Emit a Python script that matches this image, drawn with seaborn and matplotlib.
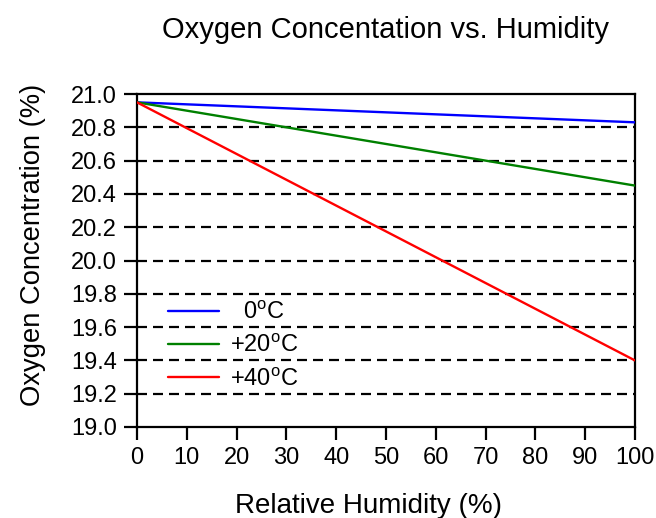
import matplotlib
matplotlib.use("Agg")
import matplotlib.pyplot as plt
import seaborn as sns
import pandas as pd

humidity = [0, 100]
temp_0C = [20.95, 20.83]
temp_20C = [20.95, 20.45]
temp_40C = [20.95, 19.40]
series_labels = ["  0$^{\\mathrm{o}}$C", "+20$^{\\mathrm{o}}$C", "+40$^{\\mathrm{o}}$C"]
colors = ["#0000ff", "#008000", "#ff0000"]
xticks = list(range(0, 101, 10))
yticks = [19.0, 19.2, 19.4, 19.6, 19.8, 20.0, 20.2, 20.4, 20.6, 20.8, 21.0]
grid_levels = [19.2, 19.4, 19.6, 19.8, 20.0, 20.2, 20.4, 20.6, 20.8]

sns.set_theme(style="white")
plt.rcParams['font.family'] = ['Liberation Sans', 'DejaVu Sans']
plt.rcParams['mathtext.fontset'] = 'custom'
plt.rcParams['mathtext.rm'] = 'Liberation Sans'
plt.rcParams['mathtext.it'] = 'Liberation Sans'
plt.rcParams['text.color'] = 'black'
plt.rcParams['axes.labelcolor'] = 'black'

rows = []
for lab, vals in zip(series_labels, [temp_0C, temp_20C, temp_40C]):
    for h, v in zip(humidity, vals):
        rows.append({"Humidity": h, "O2": v, "Series": lab})
df = pd.DataFrame(rows)

fig = plt.figure(figsize=(6.56, 5.18), dpi=100)
ax = fig.add_axes([0.2088, 0.1757, 0.759, 0.6428])

for y in grid_levels:
    ax.axhline(y, color="black", lw=1.6, ls=(0, (4.5, 2.7)), zorder=1)

sns.lineplot(data=df, x="Humidity", y="O2", hue="Series", palette=colors,
             hue_order=series_labels, lw=1.7, ax=ax, zorder=3)

ax.set_xlim(0, 100)
ax.set_ylim(19.0, 21.0)
ax.set_xticks(xticks)
ax.set_yticks(yticks)
ax.set_yticklabels([f"{v:.1f}" for v in yticks])
ax.tick_params(axis="both", which="both", direction="out", length=9.5, width=1.6,
               labelsize=17, colors="black", bottom=True, left=True, top=False, right=False, pad=5)
for s in ax.spines.values():
    s.set_color("black")
    s.set_linewidth(1.6)

ax.set_xlabel("Relative Humidity (%)", fontsize=20, labelpad=17, color="black", x=0.464)
ax.set_ylabel("Oxygen Concentration (%)", fontsize=19.7, labelpad=18, color="black", y=0.547)
ax.set_title("Oxygen Concentation vs. Humidity", fontsize=21, pad=40, color="black")

leg = ax.legend(loc="lower left", bbox_to_anchor=(0.062, 0.109), frameon=False,
                fontsize=17, handlelength=2.15, handletextpad=0.5, labelspacing=0.47,
                borderaxespad=0, borderpad=0)
for t in leg.get_texts():
    t.set_color("black")

fig.savefig("out.png", dpi=100)
